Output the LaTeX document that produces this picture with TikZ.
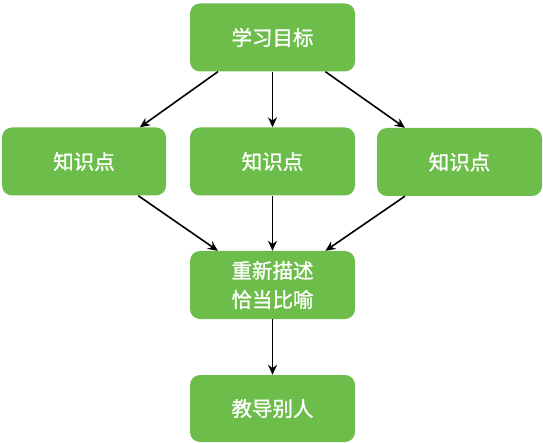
\documentclass[tikz,border=0pt]{standalone}
\usepackage{fontspec}
\newfontfamily\cjk{Noto Sans CJK SC}[FakeBold=1.2]
\usetikzlibrary{arrows.meta,calc}
\definecolor{boxgreen}{HTML}{6CBD4A}
\tikzset{
  box/.style={fill=boxgreen, draw=none, rounded corners=10bp, minimum width=165bp, minimum height=68bp,
    text=white, font=\cjk\fontsize{20.5bp}{29bp}\selectfont, align=center, inner sep=0pt},
  arr/.style={draw=black, line width=1.6bp, -{Stealth[length=10bp,width=9bp]}}
}
\begin{document}
\begin{tikzpicture}[x=1bp,y=-1bp]
\useasboundingbox (0,0) rectangle (543,443);
\node[box] (goal) at (272.5,37.5) {学习目标};
\node[box, minimum width=164bp] (k1) at (84,161.5) {知识点};
\node[box] (k2) at (272.5,161.5) {知识点};
\node[box] (k3) at (459.5,162) {知识点};
\node[box] (desc) at (272.5,285) {重新描述\\恰当比喻};
\node[box, minimum height=67bp] (teach) at (272.5,408.5) {教导别人};
\draw[arr] ($(goal.south west)!0.17!(goal.south east)$) -- ($(k1.north west)!0.84!(k1.north east)$);
\draw[arr] (goal.south) -- (k2.north);
\draw[arr] ($(goal.south west)!0.82!(goal.south east)$) -- ($(k3.north west)!0.17!(k3.north east)$);
\draw[arr] ($(k1.south west)!0.83!(k1.south east)$) -- ($(desc.north west)!0.17!(desc.north east)$);
\draw[arr] (k2.south) -- (desc.north);
\draw[arr] ($(k3.south west)!0.17!(k3.south east)$) -- ($(desc.north west)!0.82!(desc.north east)$);
\draw[arr] (desc.south) -- (teach.north);
\end{tikzpicture}
\end{document}
